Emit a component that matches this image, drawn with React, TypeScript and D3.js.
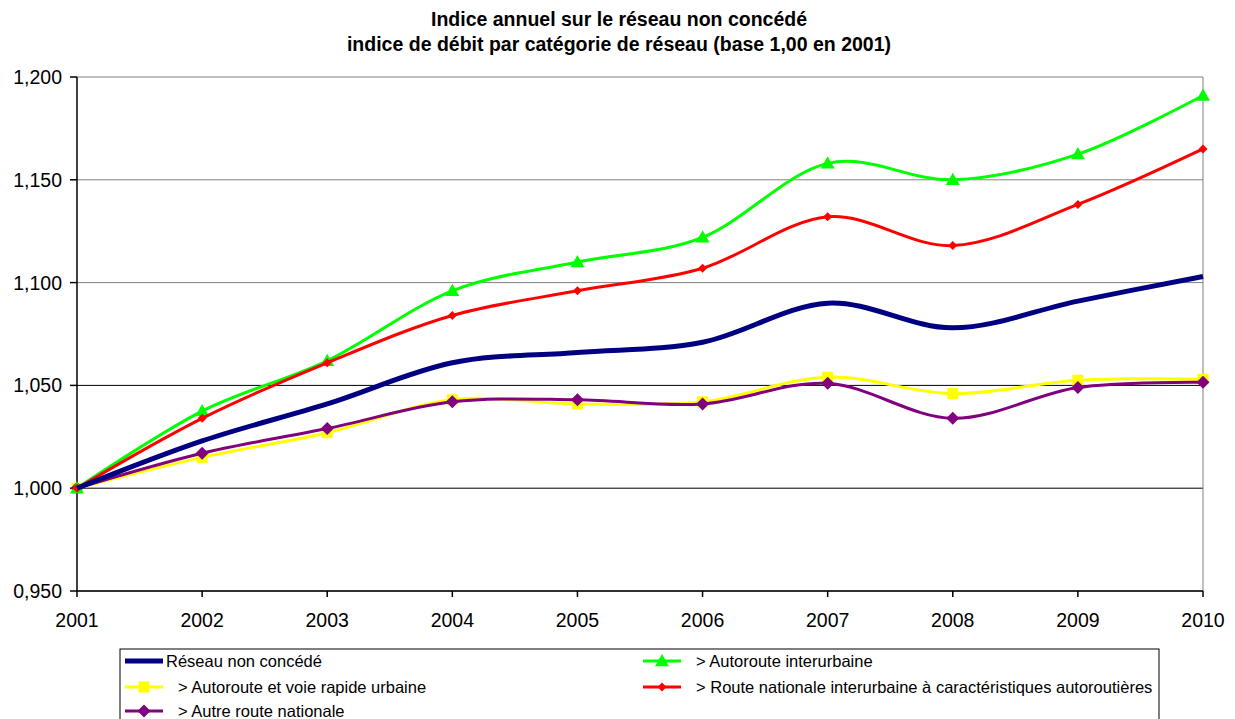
import React from "react";
import * as d3 from "d3";

const years = [2001, 2002, 2003, 2004, 2005, 2006, 2007, 2008, 2009, 2010];
const reseauNonConcede = [1.0, 1.023, 1.041, 1.061, 1.066, 1.071, 1.090, 1.078, 1.091, 1.103];
const autorouteInterurbaine = [1.0, 1.0375, 1.062, 1.096, 1.110, 1.122, 1.158, 1.150, 1.1625, 1.191];
const routeNationaleAutoroutiere = [1.0, 1.034, 1.061, 1.084, 1.096, 1.107, 1.132, 1.118, 1.138, 1.165];
const autorouteUrbaine = [1.0, 1.015, 1.027, 1.043, 1.041, 1.042, 1.054, 1.046, 1.0525, 1.053];
const autreRouteNationale = [1.0, 1.017, 1.029, 1.042, 1.043, 1.041, 1.051, 1.034, 1.049, 1.0515];
const yTicks = [0.95, 1.0, 1.05, 1.1, 1.15, 1.2];
const titleLines = [
  "Indice annuel sur le réseau non concédé",
  "indice de débit par catégorie de réseau (base 1,00 en 2001)",
];

type Series = {
  name: string;
  values: number[];
  color: string;
  width: number;
  marker: "none" | "triangle" | "square" | "diamond" | "smallDiamond";
};

const series: Series[] = [
  { name: "Réseau non concédé", values: reseauNonConcede, color: "#000080", width: 5, marker: "none" },
  { name: "> Autoroute interurbaine", values: autorouteInterurbaine, color: "#00FF00", width: 3, marker: "triangle" },
  { name: "> Route nationale interurbaine à caractéristiques autoroutières", values: routeNationaleAutoroutiere, color: "#FF0000", width: 3, marker: "smallDiamond" },
  { name: "> Autoroute et voie rapide urbaine", values: autorouteUrbaine, color: "#FFFF00", width: 3, marker: "square" },
  { name: "> Autre route nationale", values: autreRouteNationale, color: "#800080", width: 3, marker: "diamond" },
];

const drawOrder = [3, 4, 1, 2, 0];

const FONT = "'Liberation Sans', Arial, sans-serif";

function Marker({ type, x, y, color }: { type: Series["marker"]; x: number; y: number; color: string }) {
  if (type === "triangle") {
    const s = 7;
    return <path d={`M${x},${y - s} L${x + s},${y + s * 0.75} L${x - s},${y + s * 0.75} Z`} fill={color} />;
  }
  if (type === "square") {
    const s = 5.5;
    return <rect x={x - s} y={y - s} width={2 * s} height={2 * s} fill={color} />;
  }
  if (type === "diamond") {
    const s = 6.5;
    return <path d={`M${x},${y - s} L${x + s},${y} L${x},${y + s} L${x - s},${y} Z`} fill={color} />;
  }
  if (type === "smallDiamond") {
    const s = 4.5;
    return <path d={`M${x},${y - s} L${x + s},${y} L${x},${y + s} L${x - s},${y} Z`} fill={color} />;
  }
  return null;
}

export default function App() {
  const W = 1235;
  const H = 719;
  const left = 77;
  const right = 1203;
  const top = 77;
  const bottom = 591;

  const x = d3.scaleLinear().domain([2001, 2010]).range([left, right]);
  const y = d3.scaleLinear().domain([0.95, 1.2]).range([bottom, top]);

  const line = d3
    .line<number>()
    .x((_, i) => x(years[i]))
    .y((d) => y(d))
    .curve(d3.curveCardinal.tension(0));

  const fmt = (v: number) => v.toFixed(3).replace(".", ",");
  const gridColor = (v: number) => (v === 1.0 || v === 1.05 ? "#000" : "#808080");

  const legendItems = [
    { s: series[0], col: 0, row: 0 },
    { s: series[3], col: 0, row: 1 },
    { s: series[4], col: 0, row: 2 },
    { s: series[1], col: 1, row: 0 },
    { s: series[2], col: 1, row: 1 },
  ];
  const legendRowY = [661, 687, 711];
  const legendColX = [125, 643];

  return (
    <svg width={W} height={H} style={{ position: "absolute", left: 0, top: 0, display: "block" }} fontFamily={FONT}>
      <rect x={0} y={0} width={W} height={H} fill="#fff" />
      {titleLines.map((t, i) => (
        <text key={i} x={619} y={26 + i * 25} textAnchor="middle" fontSize={19.5} fontWeight="bold" fill="#000">
          {t}
        </text>
      ))}
      {yTicks.map((v) => (
        <line key={v} x1={left} x2={right} y1={y(v)} y2={y(v)} stroke={gridColor(v)} strokeWidth={1} />
      ))}
      <line x1={right} x2={right} y1={top} y2={bottom} stroke="#808080" strokeWidth={1} />
      <line x1={left} x2={left} y1={top} y2={bottom} stroke="#000" strokeWidth={1.5} />
      <line x1={left} x2={right} y1={bottom} y2={bottom} stroke="#000" strokeWidth={1.5} />
      {yTicks.map((v) => (
        <g key={"yt" + v}>
          <line x1={left - 7} x2={left} y1={y(v)} y2={y(v)} stroke="#000" strokeWidth={1.5} />
          <text x={62} y={y(v) + 7} textAnchor="end" fontSize={19.5} fill="#000">
            {fmt(v)}
          </text>
        </g>
      ))}
      {years.map((yr) => (
        <g key={"xt" + yr}>
          <line x1={x(yr)} x2={x(yr)} y1={bottom} y2={bottom + 6} stroke="#000" strokeWidth={1.5} />
          <text x={x(yr)} y={627} textAnchor="middle" fontSize={19.5} fill="#000">
            {yr}
          </text>
        </g>
      ))}
      {drawOrder.map((idx) => {
        const s = series[idx];
        return (
          <g key={s.name}>
            <path d={line(s.values) || ""} fill="none" stroke={s.color} strokeWidth={s.width} strokeLinejoin="round" />
            {s.values.map((v, i) => (
              <Marker key={i} type={s.marker} x={x(years[i])} y={y(v)} color={s.color} />
            ))}
          </g>
        );
      })}
      <rect x={120} y={649} width={1039} height={80} fill="#fff" stroke="#000" strokeWidth={1} />
      {legendItems.map(({ s, col, row }) => {
        const lx = legendColX[col];
        const ly = legendRowY[row];
        return (
          <g key={"lg" + s.name}>
            <line x1={lx} x2={lx + 38} y1={ly} y2={ly} stroke={s.color} strokeWidth={s.width} />
            <Marker type={s.marker} x={lx + 19} y={ly} color={s.color} />
            <text x={s.marker === "none" ? lx + 41 : lx + 53} y={ly + 6} fontSize={16.5} fill="#000">
              {s.name}
            </text>
          </g>
        );
      })}
    </svg>
  );
}
